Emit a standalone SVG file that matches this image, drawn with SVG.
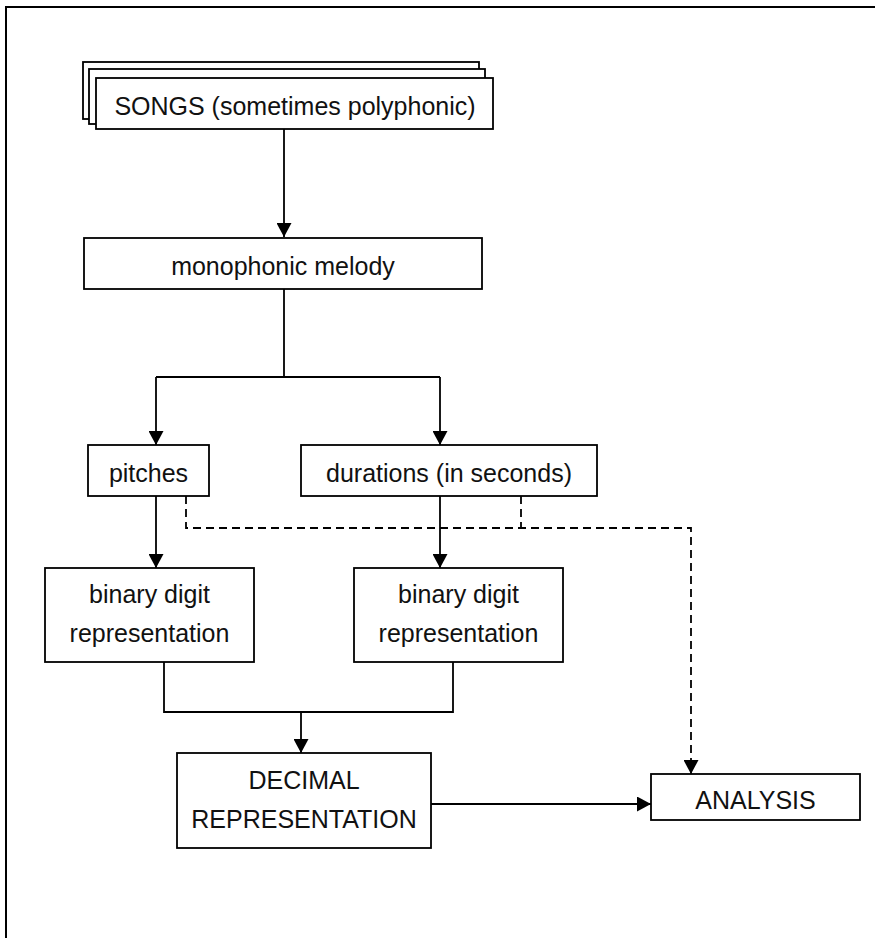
<svg xmlns="http://www.w3.org/2000/svg" width="875" height="938" viewBox="0 0 875 938">
  <style>
    .box { fill: #fff; stroke: #000; stroke-width: 1.8; }
    .lbl { font-family: "Liberation Sans", Arial, sans-serif; font-size: 25px; fill: #111; text-anchor: middle; }
    .ln { fill: none; stroke: #000; stroke-width: 1.8; }
    .dash { fill: none; stroke: #000; stroke-width: 1.8; stroke-dasharray: 8 5; }
  </style>
  <defs>
    <marker id="arr" viewBox="0 0 14 15" markerWidth="14" markerHeight="15" refX="14" refY="7.5" orient="auto" markerUnits="userSpaceOnUse">
      <path d="M0,0 L14,7.5 L0,15 z" fill="#000"/>
    </marker>
  </defs>
  <rect width="875" height="938" fill="#fff"/>
  <path id="frame" d="M6,938 V7 H875" fill="none" stroke="#000" stroke-width="2"/>

  <g id="connectors">
    <path class="ln" d="M284,129 V237" marker-end="url(#arr)"/>
    <path class="ln" d="M284,289 V377 M156,377 H440"/>
    <path class="ln" d="M156,377 V445" marker-end="url(#arr)"/>
    <path class="ln" d="M440,377 V445" marker-end="url(#arr)"/>
    <path class="ln" d="M156,496 V568" marker-end="url(#arr)"/>
    <path class="ln" d="M440,496 V568" marker-end="url(#arr)"/>
    <path class="ln" d="M164,662 V712 H453 V662"/>
    <path class="ln" d="M301,712 V753" marker-end="url(#arr)"/>
    <path class="ln" d="M431,804 H651" marker-end="url(#arr)"/>
    <path class="dash" d="M186,496 V528 H691 V774" marker-end="url(#arr)"/>
    <path class="dash" d="M521,496 V528"/>
  </g>

  <g id="songs">
    <rect class="box" x="83" y="62" width="396" height="57"/>
    <rect class="box" x="89" y="69" width="396" height="55"/>
    <rect class="box" x="96" y="78" width="397" height="51"/>
    <text class="lbl" x="295" y="115">SONGS (sometimes polyphonic)</text>
  </g>
  <g id="melody">
    <rect class="box" x="84" y="238" width="398" height="51"/>
    <text class="lbl" x="283" y="275">monophonic melody</text>
  </g>
  <g id="pitches">
    <rect class="box" x="88" y="445" width="121" height="51"/>
    <text class="lbl" x="148.5" y="482">pitches</text>
  </g>
  <g id="durations">
    <rect class="box" x="301" y="445" width="296" height="51"/>
    <text class="lbl" x="449" y="482">durations (in seconds)</text>
  </g>
  <g id="binary-left">
    <rect class="box" x="45" y="568" width="209" height="94"/>
    <text class="lbl" x="149.5" y="603">binary digit</text>
    <text class="lbl" x="149.5" y="642">representation</text>
  </g>
  <g id="binary-right">
    <rect class="box" x="354" y="568" width="209" height="94"/>
    <text class="lbl" x="458.5" y="603">binary digit</text>
    <text class="lbl" x="458.5" y="642">representation</text>
  </g>
  <g id="decimal">
    <rect class="box" x="177" y="753" width="254" height="95"/>
    <text class="lbl" x="304" y="789">DECIMAL</text>
    <text class="lbl" x="304" y="828">REPRESENTATION</text>
  </g>
  <g id="analysis">
    <rect class="box" x="651" y="774" width="209" height="46"/>
    <text class="lbl" x="755.5" y="809">ANALYSIS</text>
  </g>
</svg>
